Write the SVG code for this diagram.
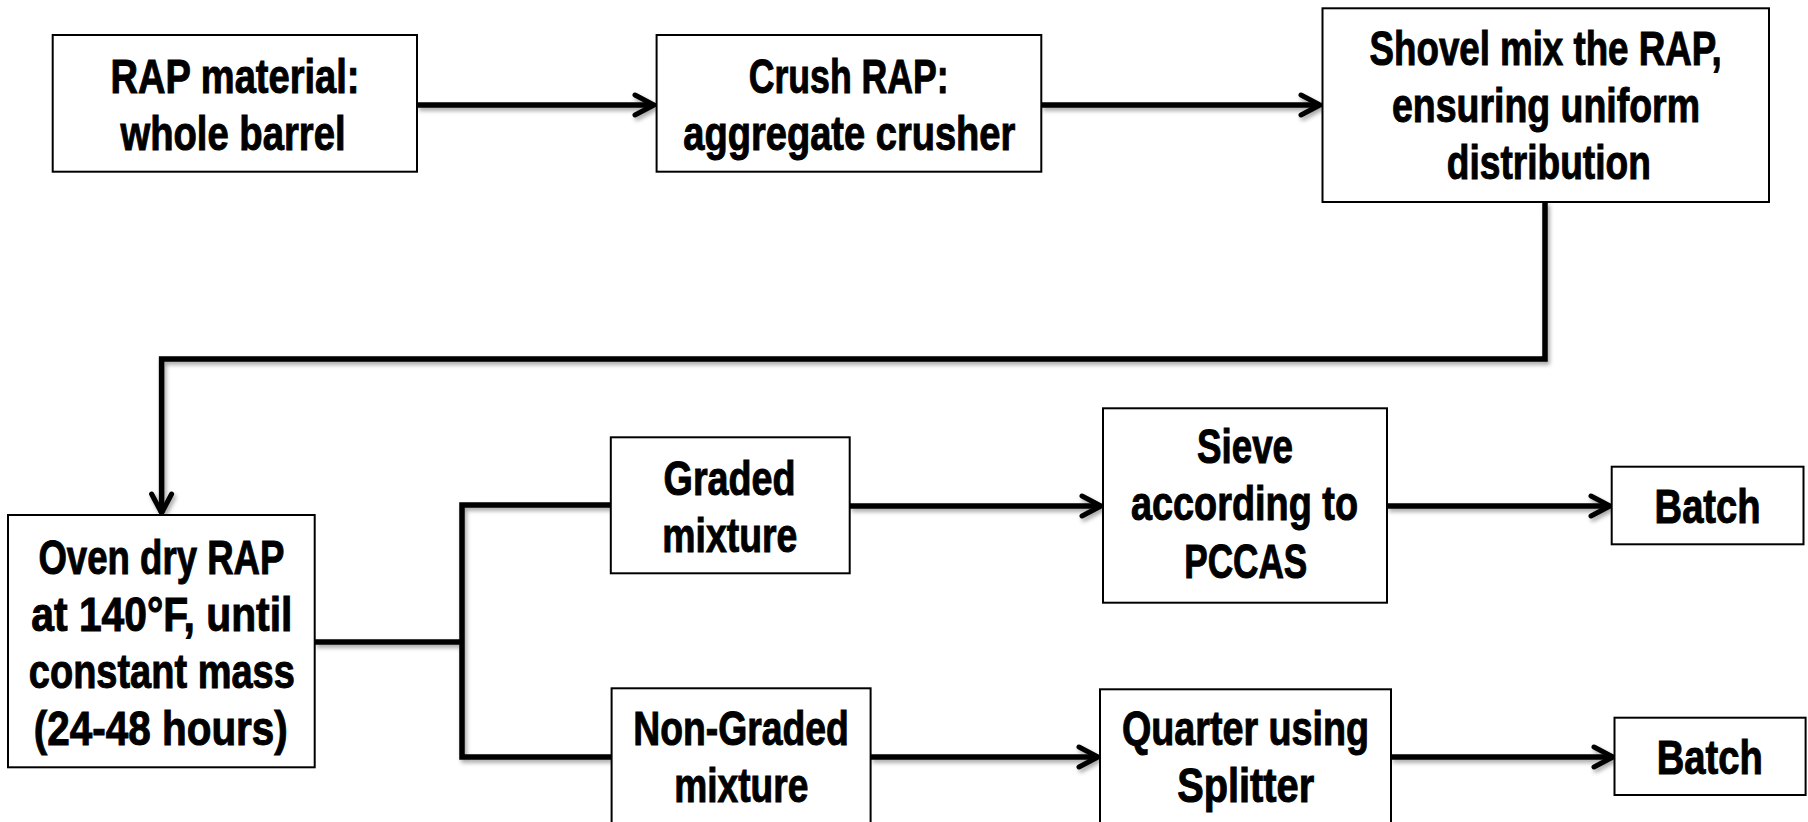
<svg xmlns="http://www.w3.org/2000/svg" width="1808" height="822" viewBox="0 0 1808 822">
<defs>
<style>
.box{fill:#fff;stroke:#000;stroke-width:2}
.t{font-family:"Liberation Sans Narrow","Liberation Sans",Arial,sans-serif;font-weight:bold;font-size:48px;fill:#000;text-anchor:middle;stroke:#000;stroke-width:1}
.c{fill:none;stroke:#000;stroke-width:5.5;stroke-linejoin:miter}
</style>
<marker id="ah" markerUnits="userSpaceOnUse" viewBox="-24 -14 28 28" refX="0" refY="0" markerWidth="28" markerHeight="28" orient="auto">
<path d="M-19,-10 L0,0 L-19,10" fill="none" stroke="#000" stroke-width="5" stroke-linecap="round" stroke-linejoin="miter"/>
</marker>
<filter id="sh" x="-5%" y="-5%" width="110%" height="120%">
<feDropShadow dx="2" dy="3" stdDeviation="2" flood-color="#000" flood-opacity="0.35"/>
</filter>
</defs>
<rect width="1808" height="822" fill="#fff"/>
<g id="connectors" filter="url(#sh)">
<path class="c" d="M417,105 H654" marker-end="url(#ah)"/>
<path class="c" d="M1041,105 H1320" marker-end="url(#ah)"/>
<path class="c" d="M1545,202 V359 H161.6 V513" marker-end="url(#ah)"/>
<path class="c" d="M314.7,642 H462"/>
<path class="c" d="M611,505 H462 V757 H611"/>
<path class="c" d="M849.7,506 H1101" marker-end="url(#ah)"/>
<path class="c" d="M870.6,757 H1098" marker-end="url(#ah)"/>
<path class="c" d="M1387,506 H1610" marker-end="url(#ah)"/>
<path class="c" d="M1391,757 H1613" marker-end="url(#ah)"/>
</g>
<g id="rap">
<rect class="box" x="52.7" y="35" width="364.3" height="136.7"/>
<text class="t" x="235" y="93" textLength="249" lengthAdjust="spacingAndGlyphs">RAP material:</text>
<text class="t" x="233" y="150" textLength="225" lengthAdjust="spacingAndGlyphs">whole barrel</text>
</g>
<g id="crush">
<rect class="box" x="656.6" y="35" width="384.7" height="136.7"/>
<text class="t" x="848.7" y="93" textLength="200" lengthAdjust="spacingAndGlyphs">Crush RAP:</text>
<text class="t" x="849.3" y="150" textLength="332" lengthAdjust="spacingAndGlyphs">aggregate crusher</text>
</g>
<g id="shovel">
<rect class="box" x="1322.5" y="8.3" width="446.5" height="193.7"/>
<text class="t" x="1545.6" y="65" textLength="352" lengthAdjust="spacingAndGlyphs">Shovel mix the RAP,</text>
<text class="t" x="1546" y="122" textLength="308" lengthAdjust="spacingAndGlyphs">ensuring uniform</text>
<text class="t" x="1548.8" y="179" textLength="204" lengthAdjust="spacingAndGlyphs">distribution</text>
</g>
<g id="oven">
<rect class="box" x="8" y="515" width="306.7" height="252.3"/>
<text class="t" x="161.4" y="574" textLength="246" lengthAdjust="spacingAndGlyphs">Oven dry RAP</text>
<text class="t" x="161.8" y="631" textLength="261" lengthAdjust="spacingAndGlyphs">at 140°F, until</text>
<text class="t" x="161.8" y="688" textLength="266" lengthAdjust="spacingAndGlyphs">constant mass</text>
<text class="t" x="160.8" y="745" textLength="254" lengthAdjust="spacingAndGlyphs">(24-48 hours)</text>
</g>
<g id="graded">
<rect class="box" x="610.8" y="437.3" width="238.9" height="136"/>
<text class="t" x="729.6" y="495" textLength="132" lengthAdjust="spacingAndGlyphs">Graded</text>
<text class="t" x="729.8" y="552" textLength="135" lengthAdjust="spacingAndGlyphs">mixture</text>
</g>
<g id="nongraded">
<rect class="box" x="611.6" y="688.3" width="259" height="145"/>
<text class="t" x="741" y="745" textLength="215.5" lengthAdjust="spacingAndGlyphs">Non-Graded</text>
<text class="t" x="741.3" y="802" textLength="134" lengthAdjust="spacingAndGlyphs">mixture</text>
</g>
<g id="sieve">
<rect class="box" x="1103" y="408.3" width="284" height="194.4"/>
<text class="t" x="1245" y="463" textLength="96" lengthAdjust="spacingAndGlyphs">Sieve</text>
<text class="t" x="1244.5" y="520" textLength="227" lengthAdjust="spacingAndGlyphs">according to</text>
<text class="t" x="1245.8" y="578" textLength="123" lengthAdjust="spacingAndGlyphs">PCCAS</text>
</g>
<g id="quarter">
<rect class="box" x="1100" y="689.3" width="291" height="145"/>
<text class="t" x="1245.5" y="745" textLength="247" lengthAdjust="spacingAndGlyphs">Quarter using</text>
<text class="t" x="1245.7" y="802" textLength="137" lengthAdjust="spacingAndGlyphs">Splitter</text>
</g>
<g id="batch1">
<rect class="box" x="1611.7" y="466.7" width="191.8" height="77.6"/>
<text class="t" x="1707.6" y="523" textLength="106" lengthAdjust="spacingAndGlyphs">Batch</text>
</g>
<g id="batch2">
<rect class="box" x="1614.5" y="717.7" width="191.1" height="77.3"/>
<text class="t" x="1709.7" y="774" textLength="106" lengthAdjust="spacingAndGlyphs">Batch</text>
</g>
</svg>
